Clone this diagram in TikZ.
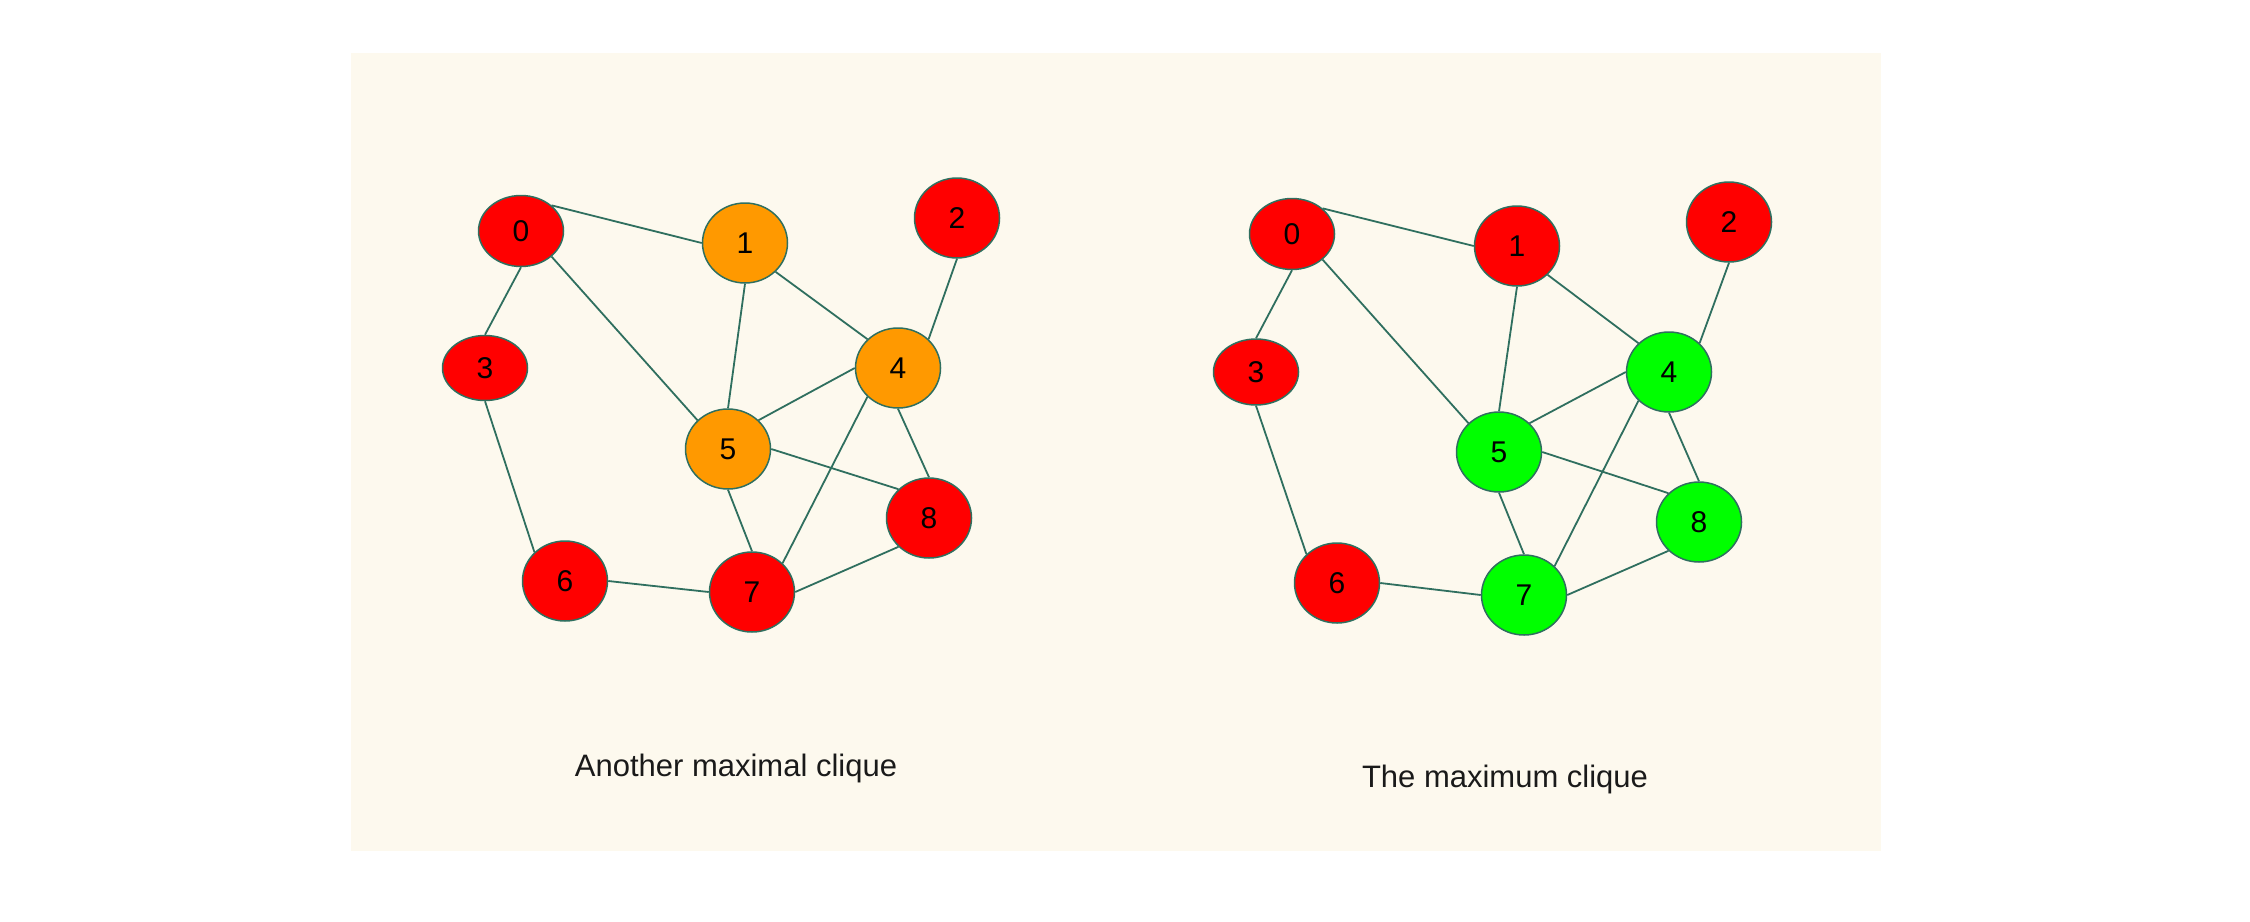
\documentclass[tikz,border=0pt]{standalone}
\usepackage{fontspec}
\setmainfont{Liberation Sans}
\usetikzlibrary{shapes.geometric}
\definecolor{bg}{HTML}{FDF9EE}
\definecolor{edgec}{HTML}{2F6F5F}
\definecolor{nred}{HTML}{FF0000}
\definecolor{norange}{HTML}{FF9900}
\definecolor{ngreen}{HTML}{00FF00}
\definecolor{txt}{HTML}{1A1A1A}
\begin{document}
\begin{tikzpicture}[x=1pt,y=-1pt,
  vert/.style={ellipse, draw=edgec, line width=1.5pt, inner sep=0pt,
    minimum width=85pt, minimum height=80pt, text=black,
    font=\fontsize{30}{32}\selectfont},
  red/.style={vert, fill=nred},
  orange/.style={vert, fill=norange},
  green/.style={vert, fill=ngreen},
  edge/.style={draw=edgec, line width=1.8pt},
  caption/.style={text=txt, font=\fontsize{31}{34}\selectfont}]
\useasboundingbox (0,0) rectangle (2250,921);
\fill[white] (0,0) rectangle (2250,921);
\fill[bg] (351,53) rectangle (1881,851);

% left graph
\node[red, minimum height=71pt] (L0) at (521,231) {0};
\node[orange] (L1) at (745,243) {1};
\node[red] (L2) at (957,218) {2};
\node[red, minimum height=65pt] (L3) at (485,368) {3};
\node[orange] (L4) at (898,368) {4};
\node[orange] (L5) at (728,449) {5};
\node[red] (L6) at (565,581) {6};
\node[red] (L7) at (752,592) {7};
\node[red] (L8) at (929,518) {8};
\foreach \a/\pa/\b/\pb in {0/north east/1/west, 0/south/3/north,
    0/south east/5/north west, 1/south/5/north, 1/south east/4/north west,
    2/south/4/north east, 3/south/6/north west, 4/west/5/north east,
    4/south west/7/north east, 4/south/8/north, 5/east/8/north west,
    5/south/7/north, 6/east/7/west, 7/east/8/south west}
  \draw[edge] (L\a.\pa) -- (L\b.\pb);
\node[caption] (capL) at (736,768) {Another maximal clique};

% right graph
\node[red, minimum height=71pt] (R0) at (1292,234) {0};
\node[red] (R1) at (1517,246) {1};
\node[red] (R2) at (1729,222) {2};
\node[red, minimum height=66pt] (R3) at (1256,372) {3};
\node[green] (R4) at (1669,372) {4};
\node[green] (R5) at (1499,452) {5};
\node[red] (R6) at (1337,583) {6};
\node[green] (R7) at (1524,595) {7};
\node[green] (R8) at (1699,522) {8};
\foreach \a/\pa/\b/\pb in {0/north east/1/west, 0/south/3/north,
    0/south east/5/north west, 1/south/5/north, 1/south east/4/north west,
    2/south/4/north east, 3/south/6/north west, 4/west/5/north east,
    4/south west/7/north east, 4/south/8/north, 5/east/8/north west,
    5/south/7/north, 6/east/7/west, 7/east/8/south west}
  \draw[edge] (R\a.\pa) -- (R\b.\pb);
\node[caption] (capR) at (1505,779) {The maximum clique};
\end{tikzpicture}
\end{document}
